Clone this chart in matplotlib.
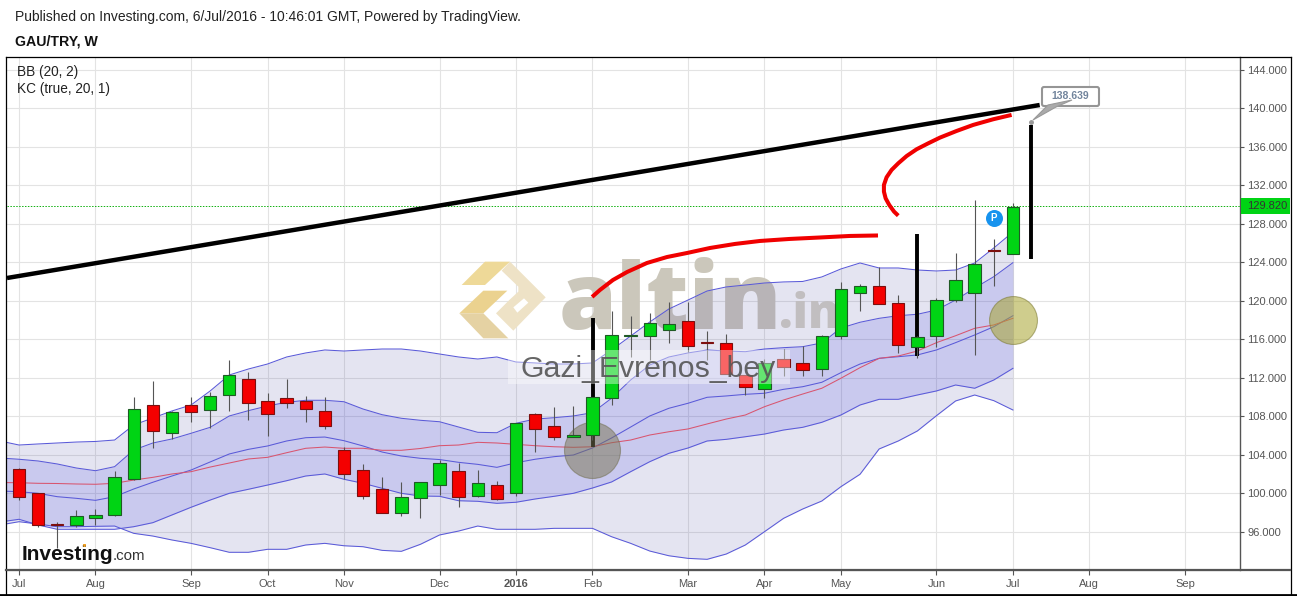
import numpy as np
import matplotlib
matplotlib.use("Agg")
import matplotlib.pyplot as plt
from matplotlib.lines import Line2D
from matplotlib.patches import Polygon, Rectangle, FancyBboxPatch
from matplotlib.transforms import Affine2D, blended_transform_factory

plt.rcParams['font.family'] = ['Liberation Sans', 'DejaVu Sans']

W, H = 1297, 596

# week index of each month tick
tick_pos = [0, 4, 9, 13, 17, 22, 26, 30, 35, 39, 43, 48, 52, 56, 61]
tick_names = ['Jul', 'Aug', 'Sep', 'Oct', 'Nov', 'Dec', '2016', 'Feb', 'Mar', 'Apr', 'May', 'Jun', 'Jul', 'Aug', 'Sep']
price_ticks = [96, 100, 104, 108, 112, 116, 120, 124, 128, 132, 136, 140, 144]
last_price = 129.82

# candles, weeks 0..52
opens = [102.5, 100.0, 96.85, 96.7, 97.45, 97.7, 101.5, 109.15, 106.3, 109.15, 108.7, 110.25, 111.85, 109.55,
         109.9, 109.55, 108.6, 104.5, 102.4, 100.5, 98.0, 99.5, 100.85, 102.3, 99.75, 100.85, 100.0, 108.2,
         106.95, 105.9, 106.1, 109.9, 116.3, 116.4, 117.0, 117.9, 115.7, 115.6, 112.25, 110.85, 114.0, 113.5,
         112.9, 116.3, 120.85, 121.6, 119.75, 115.25, 116.4, 120.1, 120.8, 125.3, 124.85]
closes = [99.65, 96.7, 96.7, 97.6, 97.75, 101.65, 108.8, 106.5, 108.5, 108.5, 110.1, 112.3, 109.4, 108.2,
          109.4, 108.75, 107.0, 102.05, 99.75, 98.0, 99.6, 101.15, 103.1, 99.65, 101.05, 99.45, 107.3, 106.7,
          105.9, 106.1, 110.0, 116.5, 116.45, 117.7, 117.6, 115.35, 115.6, 112.35, 111.0, 113.5, 113.15, 112.85,
          116.3, 121.2, 121.6, 119.7, 115.45, 116.2, 120.05, 122.15, 123.8, 125.2, 129.8]
highs = [102.6, 100.0, 97.0, 98.3, 98.4, 102.3, 110.05, 111.7, 108.6, 110.05, 110.5, 113.85, 112.6, 110.4,
         111.85, 110.1, 110.0, 104.85, 103.0, 101.7, 101.2, 101.2, 103.5, 103.2, 102.4, 101.3, 107.3, 108.4,
         109.0, 109.1, 110.0, 119.0, 118.4, 118.7, 119.9, 119.9, 116.9, 116.6, 112.25, 114.0, 115.0, 115.3,
         116.45, 122.0, 121.8, 123.5, 120.6, 116.3, 120.35, 125.0, 130.5, 126.4, 130.15]
lows = [99.3, 96.5, 94.3, 96.5, 96.7, 97.6, 101.4, 104.7, 105.6, 107.45, 106.8, 108.55, 107.6, 105.95,
        108.85, 107.4, 106.7, 101.45, 99.4, 98.0, 97.6, 97.4, 99.8, 98.6, 99.6, 99.35, 99.7, 104.3,
        105.5, 105.9, 105.5, 109.2, 114.2, 113.85, 115.65, 114.7, 113.85, 112.35, 110.2, 109.9, 112.2, 112.2,
        112.15, 116.0, 118.95, 119.7, 114.6, 114.1, 115.25, 119.85, 114.4, 121.55, 124.85]

# bands, weeks -1..52
bb_upper = [105.44, 105.02, 105.13, 105.23, 105.33, 105.39, 105.54, 107.10, 107.83, 108.56, 109.18, 110.64, 112.30,
            112.92, 113.44, 114.17, 114.59, 114.90, 114.79, 114.90, 115.00, 115.00, 114.79, 114.48, 114.17, 113.96,
            114.17, 113.65, 113.55, 113.44, 113.44, 113.55, 114.90, 116.35, 117.81, 119.16, 120.09, 121.03, 121.45,
            121.65, 121.86, 121.97, 122.02, 122.49, 123.32, 123.94, 123.42, 123.42, 123.21, 123.11, 123.21, 123.94,
            125.50, 127.16]
kc_upper = [103.67, 103.54, 103.36, 103.05, 102.63, 102.35, 102.77, 104.50, 105.23, 105.65, 106.24, 106.86, 108.04,
            108.59, 109.08, 109.46, 109.67, 109.67, 109.52, 108.76, 108.17, 107.80, 107.59, 107.44, 106.89, 106.34,
            106.30, 107.28, 107.72, 107.86, 108.04, 108.38, 109.88, 111.78, 113.34, 114.17, 114.59, 114.90, 114.79,
            114.72, 115.00, 115.14, 115.24, 115.63, 117.18, 117.78, 118.19, 118.46, 118.61, 119.05, 120.09, 121.34,
            122.52, 123.97]
kc_mid = [100.24, 100.17, 100.00, 99.65, 99.48, 99.27, 99.65, 100.45, 101.15, 101.80, 102.42, 103.26, 104.09,
          104.57, 104.92, 105.44, 105.78, 105.85, 105.47, 104.92, 104.29, 103.88, 103.64, 103.51, 103.22, 103.01,
          102.70, 103.18, 103.54, 103.81, 103.98, 104.71, 105.75, 106.89, 108.04, 108.84, 109.36, 109.98, 110.12,
          110.29, 110.40, 110.81, 111.08, 111.54, 112.54, 113.44, 114.03, 114.20, 114.38, 114.90, 115.66, 116.46,
          117.32, 118.46]
bb_mid = [101.12, 101.10, 101.04, 101.02, 100.97, 100.94, 101.04, 101.38, 101.66, 102.01, 102.25, 102.73, 103.15,
          103.57, 103.74, 104.22, 104.68, 104.81, 104.68, 104.68, 104.47, 104.47, 104.66, 104.95, 105.02, 105.30,
          105.23, 105.09, 104.95, 104.84, 104.78, 104.84, 105.26, 105.54, 106.06, 106.40, 106.69, 107.21, 107.72,
          108.14, 109.00, 109.70, 110.32, 110.92, 111.96, 113.06, 114.03, 114.27, 114.79, 115.66, 116.38, 117.15,
          117.50, 118.19]
kc_lower = [97.02, 97.30, 96.71, 96.26, 96.26, 96.26, 96.26, 96.53, 96.95, 97.75, 98.55, 99.30, 100.00,
            100.42, 100.86, 101.31, 101.80, 102.01, 101.46, 101.04, 100.52, 100.00, 99.72, 99.69, 99.23, 99.17,
            98.96, 99.07, 99.41, 99.69, 100.00, 100.55, 101.18, 102.25, 103.29, 104.16, 104.71, 105.44, 105.61,
            105.88, 106.16, 106.58, 106.86, 107.38, 108.14, 109.18, 109.77, 109.77, 110.22, 110.64, 111.26, 110.92,
            111.78, 112.99]
bb_lower = [96.71, 97.05, 96.81, 96.53, 96.53, 96.57, 96.60, 95.84, 95.56, 95.15, 94.80, 94.35, 93.87,
            93.87, 94.18, 94.18, 94.63, 94.80, 94.55, 94.45, 94.07, 93.97, 94.70, 95.67, 96.08, 96.60,
            96.26, 96.26, 96.26, 96.36, 96.36, 96.36, 95.49, 94.80, 94.00, 93.51, 93.24, 93.14, 93.69,
            94.63, 96.01, 97.40, 98.37, 99.20, 100.69, 101.98, 104.61, 105.44, 106.48, 108.07, 109.60, 110.22,
            109.63, 108.66]

# hand drawn lines on the chart
trend_x = [-0.63, 53.4]
trend_y = [122.38, 140.36]
red1_x = [29.98, 30.39, 31.07, 31.81, 32.85, 33.90, 34.95, 36.15, 37.46, 38.77, 40.33, 41.90, 43.47, 44.94]
red1_y = [120.41, 121.13, 122.17, 123.0, 123.94, 124.56, 124.98, 125.5, 125.92, 126.23, 126.44, 126.59, 126.75, 126.8]
red2_x = [46.0, 45.78, 45.53, 45.34, 45.25, 45.25, 45.39, 45.65, 46.0, 46.44, 46.96, 47.57, 48.18, 49.05, 49.92,
          50.97, 51.93]
red2_y = [128.86, 129.28, 129.97, 130.66, 131.36, 132.05, 132.85, 133.61, 134.30, 135.06, 135.76, 136.38, 136.97,
          137.66, 138.29, 138.88, 139.33]
bars_x = [30.03, 46.98, 52.94]
bars_low = [104.85, 114.3, 124.32]
bars_high = [118.2, 127.0, 138.29]
target_x, target_y = 52.94, 138.639

weeks = np.arange(0, 53)
band_weeks = np.arange(-1, 53)

fig = plt.figure(figsize=(W / 100, H / 100), dpi=100, facecolor='white')
ax = fig.add_axes([7 / W, (H - 570) / H, (1240 - 7) / W, (570 - 57) / H])
ax.set_xlim(-0.63, 63.88)
ax.set_ylim(92.03, 145.35)

# pixel coords of the picture, y going down
px = Affine2D().scale(1, -1).translate(0, H)

ax.grid(True, color='#e3e3e3', lw=0.8, zorder=1)
ax.set_axisbelow(True)
ax.set_xticks(tick_pos)
ax.set_xticklabels(tick_names)
ax.set_yticks(price_ticks)
ax.set_yticklabels(['%.3f' % p for p in price_ticks])
ax.yaxis.tick_right()
ax.tick_params(axis='both', colors='#555555', labelsize=8, length=3.5, width=0.8)
ax.tick_params(axis='x', pad=3)
ax.tick_params(axis='y', pad=2.2, length=3)
for lab in ax.get_xticklabels():
    if lab.get_text() == '2016':
        lab.set_fontweight('bold')

# watermark sits behind the bands
ax.text(559, 329, 'altin', transform=px, fontsize=67, family='Open Sans', fontweight=800, color='#cbc7bb',
        va='baseline', zorder=1.5)
ax.text(779, 328, '.in', transform=px, fontsize=34, family='Open Sans', fontweight=800, color='#d6d2c6',
        va='baseline', zorder=1.5)
logo_x, logo_y = 450, 250
logo = [
    ([(105, 35), (180, 35), (105, 105), (35, 105)], '#eed998'),
    ([(100, 122), (172, 122), (100, 190), (28, 190)], '#ebd28f'),
    ([(28, 190), (100, 190), (175, 265), (100, 265)], '#e5d2a3'),
    ([(155, 62), (180, 35), (287, 142), (190, 242), (138, 190), (178, 150), (205, 125), (205, 110)], '#eee2c6'),
    ([(190, 172), (222, 145), (235, 158), (202, 188)], 'white'),
]
for pts, col in logo:
    pts = [(logo_x + a / 3, logo_y + b / 3) for a, b in pts]
    ax.add_patch(Polygon(pts, closed=True, transform=px, facecolor=col, edgecolor='none', zorder=1.6))

# bands
ax.fill_between(band_weeks, bb_lower, bb_upper, color=(70 / 255, 70 / 255, 160 / 255), alpha=0.14, lw=0, zorder=2)
ax.fill_between(band_weeks, kc_lower, kc_upper, color=(60 / 255, 60 / 255, 225 / 255), alpha=0.16, lw=0, zorder=2.1)
for band in [bb_upper, kc_upper, kc_mid, kc_lower, bb_lower]:
    ax.plot(band_weeks, band, color='#5a5ad8', lw=0.75, zorder=2.5)
ax.plot(band_weeks, bb_mid, color='#d8556f', lw=0.75, zorder=2.5)

# last price line
ax.axhline(last_price, color='#10b010', lw=0.7, ls=(0, (1.5, 1.5)), zorder=2.6)

# drawings under the candles
ax.plot(trend_x, trend_y, color='black', lw=3.2, solid_capstyle='butt', zorder=3)
ax.plot(red1_x, red1_y, color='#f00000', lw=2.9, solid_capstyle='butt', solid_joinstyle='round', zorder=3)
ax.plot(red2_x, red2_y, color='#f00000', lw=2.9, solid_capstyle='butt', solid_joinstyle='round', zorder=3)
ax.vlines(bars_x, bars_low, bars_high, color='black', lw=2.8, zorder=3)

# circles
ax.scatter([29.98], [104.5], s=1626, color='#787350', alpha=0.5, edgecolors='#6d6a48', linewidths=0.8, zorder=3.2)
ax.scatter([52.0], [118.0], s=1190, color='#a8a430', alpha=0.55, edgecolors='#7a7830', linewidths=0.8, zorder=3.2)

# candles
up = np.array(closes) >= np.array(opens)
body_bottom = np.minimum(opens, closes)
body_height = np.abs(np.array(closes) - np.array(opens))
ax.vlines(weeks, lows, highs, color='#555555', lw=0.8, zorder=4)
ax.bar(weeks[up], body_height[up], bottom=body_bottom[up], width=0.65, color='#00d414', edgecolor='#1f5a25',
       lw=0.8, zorder=5)
ax.bar(weeks[~up], body_height[~up], bottom=body_bottom[~up], width=0.65, color='#f40000', edgecolor='#7c0f0f',
       lw=0.8, zorder=5)

# P badge
ax.scatter([51], [128.6], s=150, color='#1793ee', lw=0, zorder=6)
ax.text(51, 128.6, 'P', color='white', fontsize=7, fontweight='bold', ha='center', va='center', zorder=6.5)

# text strip over everything
ax.add_patch(Rectangle((508, 350), 282, 34, transform=px, facecolor='white', alpha=0.4, edgecolor='none', zorder=8))
ax.text(521, 377, 'Gazi_Evrenos_bey', transform=px, fontsize=21.8, color='#555555', alpha=0.9, va='baseline', zorder=9)

# callout
ax.plot([target_x], [target_y], 'o', ms=2.5, color='#999999', zorder=7)
box = FancyBboxPatch((1042, 87), 57, 19, boxstyle='round,pad=0,rounding_size=2', transform=px,
                     facecolor='white', edgecolor='#959595', lw=1.5, zorder=6.8, clip_on=False)
ax.add_patch(box)
ax.add_patch(Polygon([(1033, 120), (1048, 105), (1072, 100), (1056, 107)], closed=True, transform=px,
                     facecolor='#aaaaaa', edgecolor='#999999', lw=0.8, zorder=7, clip_on=False))
ax.text(1070, 96, '138.639', transform=px, fontsize=7.5, fontweight='bold', color='#71849c', ha='center',
        va='center', zorder=7.5)

# legend text
ax.text(17, 72, 'BB (20, 2)', transform=px, fontsize=9.8, color='#222222', va='center', zorder=9)
ax.text(17, 89, 'KC (true, 20, 1)', transform=px, fontsize=9.8, color='#222222', va='center', zorder=9)

# investing logo
ax.text(22, 560, 'Investing', transform=px, fontsize=15, fontweight='bold', color='#111111', va='baseline', zorder=9)
ax.text(113, 560, '.com', transform=px, fontsize=10.8, color='#333333', va='baseline', zorder=9)
ax.add_patch(Polygon([(83, 544), (86, 544), (85.5, 547), (83.5, 547)], transform=px, facecolor='#f0a020',
                     edgecolor='none', zorder=9.5))

# spines, the frame below draws left and top
ax.spines['left'].set_visible(False)
ax.spines['top'].set_visible(False)
ax.spines['right'].set_color('#555555')
ax.spines['right'].set_linewidth(1.0)
ax.spines['bottom'].set_color('#555555')
ax.spines['bottom'].set_linewidth(0.8)

# price label on the axis
trans = blended_transform_factory(px, ax.transData)
ax.add_patch(Rectangle((1241, last_price - 0.83), 49, 1.66, transform=trans, facecolor='#00d414', edgecolor='none',
                       clip_on=False, zorder=10))
ax.text(1247, last_price, '%.3f' % last_price, transform=trans, fontsize=8, color='#333333', va='center', zorder=11)

# frame around the whole chart
fig.add_artist(Line2D([6, 6], [57, 596], transform=px, color='black', lw=0.9))
fig.add_artist(Line2D([6, 1290.5], [57, 57], transform=px, color='black', lw=0.9))
fig.add_artist(Line2D([1290.5, 1290.5], [57, 596], transform=px, color='black', lw=0.9))
fig.add_artist(Line2D([6, 1290], [570, 570], transform=px, color='#555555', lw=1.6))
fig.add_artist(Line2D([0, W], [595, 595], transform=px, color='black', lw=2))

# header
fig.text(15, 0, 'Published on Investing.com, 6/Jul/2016 - 10:46:01 GMT, Powered by TradingView.',
         transform=px + Affine2D().translate(0, -21), fontsize=9.97, color='#222222', va='baseline')
fig.text(15, 0, 'GAU/TRY, W', transform=px + Affine2D().translate(0, -45), fontsize=10.2, fontweight='bold',
         color='#111111', va='baseline')

fig.savefig('out.png', dpi=100, facecolor='white')
